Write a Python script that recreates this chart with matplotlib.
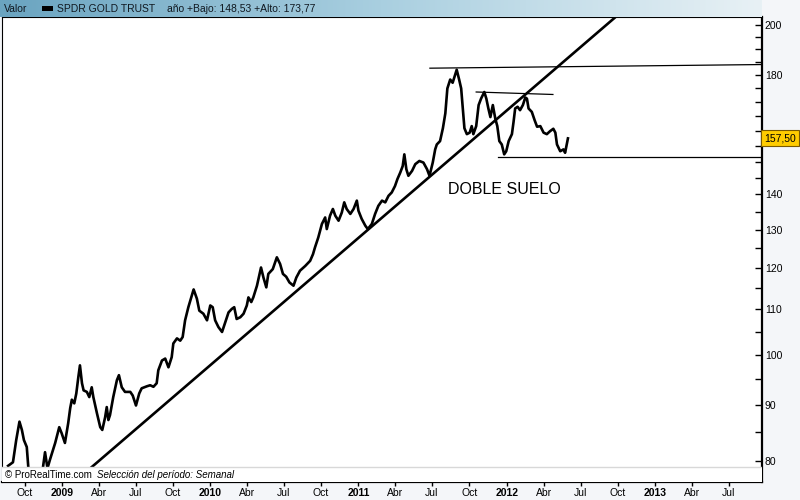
import numpy as np
import pandas as pd
import matplotlib
matplotlib.use('Agg')
import matplotlib.pyplot as plt
from matplotlib.patches import Rectangle
from matplotlib.ticker import NullLocator

plt.rcParams['font.family'] = ['Liberation Sans', 'DejaVu Sans']

# weekly closes of GLD
price_dates = [
    '2008-08-21', '2008-09-02', '2008-09-10', '2008-09-18', '2008-09-24', '2008-09-29',
    '2008-10-06', '2008-10-10', '2008-10-17', '2008-10-24', '2008-10-31', '2008-11-07',
    '2008-11-14', '2008-11-20', '2008-11-26', '2008-12-02', '2008-12-15', '2008-12-25',
    '2008-12-31', '2009-01-08', '2009-01-16', '2009-01-21', '2009-01-25', '2009-01-31',
    '2009-02-05', '2009-02-10', '2009-02-14', '2009-02-19', '2009-02-23', '2009-03-03',
    '2009-03-09', '2009-03-15', '2009-03-19', '2009-03-28', '2009-04-05', '2009-04-10',
    '2009-04-17', '2009-04-21', '2009-04-25', '2009-04-29', '2009-05-07', '2009-05-16',
    '2009-05-21', '2009-05-28', '2009-06-05', '2009-06-18', '2009-06-24', '2009-07-02',
    '2009-07-10', '2009-07-16', '2009-07-29', '2009-08-06', '2009-08-14', '2009-08-22',
    '2009-08-26', '2009-09-04', '2009-09-12', '2009-09-20', '2009-09-28', '2009-10-02',
    '2009-10-11', '2009-10-19', '2009-10-25', '2009-10-31', '2009-11-08', '2009-11-21',
    '2009-11-29', '2009-12-05', '2009-12-15', '2009-12-24', '2010-01-01', '2010-01-07',
    '2010-01-13', '2010-01-21', '2010-01-30', '2010-02-07', '2010-02-15', '2010-02-23',
    '2010-03-01', '2010-03-07', '2010-03-16', '2010-03-24', '2010-04-01', '2010-04-05',
    '2010-04-12', '2010-04-17', '2010-04-26', '2010-05-06', '2010-05-12', '2010-05-19',
    '2010-05-24', '2010-06-04', '2010-06-14', '2010-06-22', '2010-06-29', '2010-07-07',
    '2010-07-15', '2010-07-25', '2010-08-01', '2010-08-10', '2010-08-23', '2010-09-04',
    '2010-09-11', '2010-09-16', '2010-09-24', '2010-10-03', '2010-10-11', '2010-10-15',
    '2010-10-23', '2010-10-30', '2010-11-05', '2010-11-13', '2010-11-21', '2010-11-27',
    '2010-12-03', '2010-12-12', '2010-12-20', '2010-12-28', '2011-01-01', '2011-01-09',
    '2011-01-18', '2011-01-24', '2011-02-03', '2011-02-11', '2011-02-19', '2011-02-28',
    '2011-03-08', '2011-03-16', '2011-03-24', '2011-04-01', '2011-04-07', '2011-04-14',
    '2011-04-20', '2011-04-24', '2011-04-29', '2011-05-04', '2011-05-13', '2011-05-21',
    '2011-05-31', '2011-06-10', '2011-06-19', '2011-06-25', '2011-07-03', '2011-07-09',
    '2011-07-13', '2011-07-21', '2011-07-28', '2011-08-03', '2011-08-08', '2011-08-15',
    '2011-08-21', '2011-08-26', '2011-08-31', '2011-09-06', '2011-09-11', '2011-09-15',
    '2011-09-19', '2011-09-25', '2011-10-02', '2011-10-07', '2011-10-11', '2011-10-18',
    '2011-10-24', '2011-10-30', '2011-11-07', '2011-11-12', '2011-11-17', '2011-11-22',
    '2011-11-28', '2011-12-04', '2011-12-09', '2011-12-14', '2011-12-20', '2011-12-26',
    '2011-12-31', '2012-01-06', '2012-01-14', '2012-01-18', '2012-01-22', '2012-01-28',
    '2012-02-03', '2012-02-10', '2012-02-16', '2012-02-20', '2012-02-24', '2012-03-03',
    '2012-03-10', '2012-03-16', '2012-03-24', '2012-04-01', '2012-04-09', '2012-04-17',
    '2012-04-25', '2012-04-30', '2012-05-04', '2012-05-12', '2012-05-20', '2012-05-24',
    '2012-05-28', '2012-05-31',
]
price_values = [
    79.2, 79.8, 83.6, 86.9, 85.4, 83.6,
    82.4, 78.8, 74.0, 71.0, 73.0, 74.0,
    78.5, 81.5, 78.8, 80.2, 83.1, 85.9,
    84.8, 83.1, 86.6, 89.4, 91.0, 90.3,
    92.2, 95.4, 97.8, 94.2, 92.8, 92.5,
    91.5, 93.4, 91.5, 88.4, 85.9, 85.4,
    87.7, 89.6, 87.2, 88.1, 91.5, 94.8,
    95.8, 93.4, 92.5, 92.5, 91.8, 89.9,
    92.2, 93.2, 93.6, 93.8, 93.5, 94.2,
    96.8, 98.8, 99.2, 97.4, 99.5, 102.4,
    103.5, 103.0, 103.8, 107.5, 110.5, 114.7,
    112.5, 109.7, 109.0, 107.5, 110.9, 110.5,
    107.5, 106.0, 104.9, 107.1, 109.3, 110.1,
    110.5, 107.8, 108.2, 109.0, 110.9, 112.8,
    111.7, 112.8, 115.6, 120.1, 117.6, 115.2,
    118.5, 119.7, 122.7, 121.0, 118.5, 117.8,
    116.4, 115.6, 117.6, 119.3, 120.5, 121.8,
    123.5, 125.3, 127.9, 131.6, 133.4, 130.2,
    133.9, 135.8, 133.9, 132.5, 134.8, 137.7,
    135.8, 134.4, 135.8, 138.2, 135.3, 133.0,
    131.1, 130.2, 131.6, 134.4, 136.7, 138.2,
    137.7, 139.6, 140.6, 142.5, 144.6, 146.6,
    148.6, 152.3, 147.6, 145.6, 147.1, 149.2,
    150.2, 149.7, 147.6, 145.6, 149.7, 153.9,
    155.5, 156.6, 160.9, 166.0, 174.9, 178.2,
    177.0, 179.4, 181.9, 178.2, 174.9, 167.7,
    160.9, 158.9, 159.4, 161.6, 158.9, 161.6,
    168.9, 171.2, 173.6, 171.2, 167.7, 164.7,
    168.9, 164.2, 161.6, 156.6, 155.5, 152.3,
    153.3, 156.6, 158.9, 163.0, 167.7, 168.3,
    167.1, 168.9, 171.6, 171.2, 167.7, 166.5,
    163.6, 161.4, 161.6, 159.4, 158.9, 159.9,
    160.7, 159.4, 155.5, 153.3, 153.9, 152.8,
    155.5, 157.5,
]

# hand drawn lines on the chart
trend_dates = ['2009-03-15', '2012-09-24']
trend_values = [79.0, 203.0]
top_dates = ['2011-06-26', '2013-09-21']
top_values = [182.5, 183.9]
mid_dates = ['2011-10-18', '2012-04-24']
mid_values = [173.6, 172.7]
low_dates = ['2011-12-11', '2013-09-21']
low_values = [151.5, 151.5]

last_value = '157,50'
header_name = 'SPDR GOLD TRUST'
header_info = 'año +Bajo: 148,53 +Alto: 173,77'

ytick_values = [80, 85, 90, 95, 100, 105, 110, 115, 120, 125, 130, 135, 140, 145,
                150, 155, 160, 165, 170, 175, 180, 185, 190, 195, 200]
ytick_shown = [80, 90, 100, 110, 120, 130, 140, 180, 200]

xtick_dates = ['2008-10-01', '2009-01-01', '2009-04-01', '2009-07-01', '2009-10-01',
               '2010-01-01', '2010-04-01', '2010-07-01', '2010-10-01', '2011-01-01',
               '2011-04-01', '2011-07-01', '2011-10-01', '2012-01-01', '2012-04-01',
               '2012-07-01', '2012-10-01', '2013-01-01', '2013-04-01', '2013-07-01']
xtick_labels = ['Oct', '2009', 'Abr', 'Jul', 'Oct', '2010', 'Abr', 'Jul', 'Oct', '2011',
                'Abr', 'Jul', 'Oct', '2012', 'Abr', 'Jul', 'Oct', '2013', 'Abr', 'Jul']

fig = plt.figure(figsize=(8, 5), dpi=100, facecolor='#f4f6f9')

# --- main chart
ax = fig.add_axes([2/800, 18/500, 760/800, 465/500])
ax.set_facecolor('white')
ax.set_yscale('log')

ax.plot(pd.to_datetime(price_dates), price_values, color='black', lw=1.9, zorder=3)
ax.plot(pd.to_datetime(trend_dates), trend_values, color='black', lw=1.9, zorder=3)
for d, v in [(top_dates, top_values), (mid_dates, mid_values), (low_dates, low_values)]:
    ax.plot(pd.to_datetime(d), v, color='black', lw=0.9, zorder=3)

ax.text(pd.Timestamp('2011-12-26'), 141.6, 'DOBLE SUELO', fontsize=11.5,
        ha='center', va='center')

ax.set_xlim(pd.Timestamp('2008-08-06'), pd.Timestamp('2013-09-21'))
ax.set_ylim(76.56, 203.2)

ax.yaxis.tick_right()
ax.yaxis.set_minor_locator(NullLocator())
ax.set_yticks(ytick_values)
ax.set_yticklabels([str(v) if v in ytick_shown else '' for v in ytick_values])
ax.tick_params(axis='y', direction='in', length=5, width=1, labelsize=7.5, pad=2)

ax.set_xticks(pd.to_datetime(xtick_dates))
ax.set_xticklabels(xtick_labels)
ax.tick_params(axis='x', direction='out', length=3, width=1, labelsize=7.5, pad=1.5)
for lab in ax.get_xticklabels():
    if lab.get_text().isdigit():
        lab.set_fontweight('bold')

for side in ['left', 'top']:
    ax.spines[side].set_linewidth(0.8)
for side in ['right', 'bottom']:
    ax.spines[side].set_linewidth(1.6)

# footer strip
fh = 15/465
ax.add_patch(Rectangle((0, 0), 1, fh, transform=ax.transAxes, facecolor='white',
                       edgecolor='none', zorder=5))
ax.plot([0, 1], [fh, fh], transform=ax.transAxes, color='#d8d8d8', lw=1, zorder=6)
ax.text(3/760, fh/2, '\u00a9 ProRealTime.com', transform=ax.transAxes, fontsize=7,
        va='center', ha='left', zorder=7)
ax.text(95/760, fh/2, 'Selección del período: Semanal', transform=ax.transAxes,
        fontsize=7, style='italic', va='center', ha='left', zorder=7)

# last value box
ax.text(1.003, 157.5, last_value, transform=ax.get_yaxis_transform(), fontsize=7.5,
        va='center', ha='left', clip_on=False, zorder=10,
        bbox=dict(boxstyle='square,pad=0.3', facecolor='#ffcc00', edgecolor='#7a5a00', lw=0.8))

# --- header bar
hx = fig.add_axes([0, 1 - 17/500, 762/800, 17/500])
grad = np.linspace(0, 1, 256).reshape(1, -1)
cmap = matplotlib.colors.LinearSegmentedColormap.from_list('hdr', ['#6aa4c0', '#a9cfe0', '#e8f1f5'])
hx.imshow(grad, aspect='auto', cmap=cmap, extent=[0, 1, 0, 1])
hx.set_xlim(0, 1)
hx.set_ylim(0, 1)
hx.axis('off')
hx.text(4/762, 0.5, 'Valor', fontsize=7.5, va='center', ha='left', color='#101820')
hx.add_patch(Rectangle((42/762, 0.38), 11/762, 0.24, facecolor='black', edgecolor='none'))
hx.text(57/762, 0.5, header_name, fontsize=7.5, va='center', ha='left', color='#101820')
hx.text(167/762, 0.5, header_info, fontsize=7.5, va='center', ha='left', color='#101820')

fig.savefig('out.png', dpi=100, facecolor=fig.get_facecolor())
